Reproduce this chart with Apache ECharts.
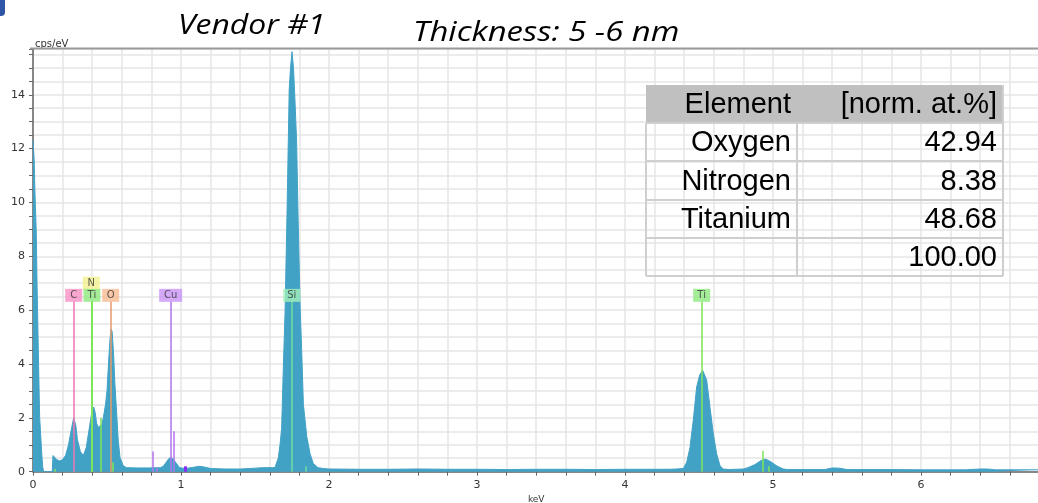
<!DOCTYPE html>
<html><head><meta charset="utf-8">
<script src="https://cdn.jsdelivr.net/npm/echarts@6/dist/echarts.min.js"></script>
<style>html,body{margin:0;padding:0;background:#fff}#c{width:1038px;height:503px}</style>
</head><body><div id="c"></div>
<script>
// ---- data ----
const energyKeV = [
 0.000,0.005,0.008,0.013,0.022,0.027,0.032,0.038,0.045,0.059,0.065,0.072,0.130,0.135,0.145,0.160,0.180,0.200,0.220,0.240,0.260,0.275,0.290,0.300,0.320,0.340,0.360,0.380,0.400,0.410,0.420,0.430,0.440,0.453,0.465,0.475,0.490,0.500,0.510,0.520,0.528,0.535,0.545,0.553,0.565,0.576,0.588,0.610,0.632,0.700,0.780,0.860,0.880,0.900,0.920,0.935,0.950,0.970,0.990,1.030,1.080,1.120,1.150,1.200,1.300,1.400,1.500,1.550,1.620,
 1.635,1.657,1.669,1.680,1.691,1.703,1.716,1.725,1.731,1.740,1.750,1.760,1.770,1.781,1.791,1.804,1.816,1.827,1.850,1.872,1.894,1.926,1.960,2.000,2.200,2.400,2.600,2.800,3.000,3.200,3.400,3.600,3.800,4.000,4.200,4.300,4.350,
 4.394,4.417,4.439,4.461,4.484,4.505,4.525,4.552,4.574,4.597,4.619,4.642,4.664,4.700,4.800,4.830,4.880,4.920,4.946,4.970,4.990,5.030,5.070,5.100,5.350,5.400,5.450,5.500,5.800,6.000,6.300,6.400,6.450,6.500,6.800
];
const countsCps = [
 12.3,12.3,11.6,10.4,8.9,7.1,5.6,3.9,2.0,0.7,0.2,0.0,0.0,0.6,0.55,0.45,0.4,0.45,0.6,1.0,1.6,2.0,1.7,1.2,0.75,0.6,0.9,1.6,2.3,2.4,2.2,1.8,1.65,1.6,1.75,2.0,2.5,3.0,4.0,4.9,5.3,5.2,4.3,3.3,2.2,1.15,0.53,0.22,0.15,0.14,0.14,0.15,0.2,0.35,0.5,0.52,0.45,0.3,0.15,0.12,0.16,0.2,0.18,0.12,0.1,0.1,0.13,0.15,0.15,
 0.16,0.5,1.0,1.6,3.8,5.9,9.5,12.3,14.2,15.0,15.6,15.0,13.8,12.3,9.5,6.3,4.4,2.5,1.3,0.67,0.3,0.15,0.12,0.1,0.09,0.09,0.1,0.09,0.09,0.08,0.09,0.09,0.08,0.09,0.09,0.09,0.1,
 0.12,0.35,0.9,1.9,3.14,3.6,3.76,3.4,2.4,1.4,0.67,0.22,0.1,0.08,0.1,0.15,0.27,0.42,0.47,0.42,0.35,0.2,0.1,0.08,0.08,0.14,0.13,0.08,0.08,0.07,0.07,0.1,0.1,0.07,0.07
];
const markerNames = ['C','N','Ti','O','Cu','Si','Ti'];
const markerKeV   = [0.275,0.394,0.398,0.525,0.930,1.748,4.518];
const minorLineKeV    = [0.144,0.457,0.536,0.810,0.835,0.950,1.030,1.840,4.930,4.970];
const minorLineHeight = [0.1,2.0,0.35,0.75,0.15,1.5,0.2,0.2,0.78,0.2];
const minorLineElem   = ['Ti','Ti','Ti','Cu','Cu','Cu','Cu2','Si','Ti','Ti'];
const tableHeader  = ['Element','[norm. at.%]'];
const tableElement = ['Oxygen','Nitrogen','Titanium',''];
const tableValue   = ['42.94','8.38','48.68','100.00'];
const titleText = 'Vendor #1', subtitleText = 'Thickness: 5 -6 nm';
const xTickStep = 0.2, yTickStep = 0.5;

// ---- styles ----
const lineColor = {C:'#f075b5',N:'#d6ec4a',Ti:'#7ee458',O:'#e89a68',Cu:'#b274ee',Cu2:'#8a2cf5',Si:'#6fdc9c'};
const boxColor  = {C:'#f790c6',N:'#f3f08e',Ti:'#8fe97f',O:'#f7ba92',Cu:'#c893f6',Si:'#a3f1b9'};
const markerTop = 6.33, labelLevel = 6.55, stackedLevel = 7.0;

const spectrum = energyKeV.map((e,i)=>[e,countsCps[i]]);
const boxData = markerNames.map((n,i)=>({
  value:[markerKeV[i], n==='N'?stackedLevel:labelLevel],
  name:n,
  symbolSize:[n==='Cu'?23:17,13],
  itemStyle:{color:boxColor[n]}
}));
const lines = markerNames.map((n,i)=>[
  {coord:[markerKeV[i],0],lineStyle:{color:lineColor[n],width:n==='Ti'&&i===2?2:1.5,type:'solid'}},
  {coord:[markerKeV[i],markerTop]}
]).concat(minorLineKeV.map((e,i)=>[
  {coord:[e,0],lineStyle:{color:lineColor[minorLineElem[i]],width:minorLineElem[i]==='Cu2'?3:1.5,type:'solid'}},
  {coord:[e,minorLineHeight[i]]}
]));

// table graphic
const tX0=646,tX1=1003,tXm=797,tY=[85,123,161,200,238,276];
const tbl=[];
const lineSt={stroke:'#cfcfcf',lineWidth:2};
tbl.push({type:'rect',z:100,shape:{x:tX0,y:tY[0],width:tX1-tX0,height:tY[1]-tY[0]},style:{fill:'#c0c0c0',stroke:null}});
for(let i=1;i<tY.length;i++) tbl.push({type:'line',z:101,shape:{x1:tX0,y1:tY[i],x2:tX1,y2:tY[i]},style:lineSt});
tbl.push({type:'line',z:101,shape:{x1:tX0,y1:tY[1],x2:tX0,y2:tY[5]},style:lineSt});
tbl.push({type:'line',z:101,shape:{x1:tX1,y1:tY[0],x2:tX1,y2:tY[5]},style:lineSt});
tbl.push({type:'line',z:101,shape:{x1:tXm,y1:tY[1],x2:tXm,y2:tY[5]},style:lineSt});
function cell(t,x,y){return {type:'text',z:102,style:{text:t,x:x,y:y,textAlign:'right',textVerticalAlign:'middle',align:'right',verticalAlign:'middle',
  fontFamily:'Liberation Sans',fontSize:29,fill:'#000',stroke:null,lineWidth:0}};}
tbl.push(cell(tableHeader[0],791,(tY[0]+tY[1])/2+1));
tbl.push(cell(tableHeader[1],997,(tY[0]+tY[1])/2+1));
for(let r=0;r<tableElement.length;r++){
  const cy=(tY[r+1]+tY[r+2])/2+1;
  if(tableElement[r]) tbl.push(cell(tableElement[r],791,cy));
  tbl.push(cell(tableValue[r],997,cy));
}
function titleEl(t,x,y,sx){return {type:'text',z:110,x:x,y:y,scaleX:sx,scaleY:1,
  style:{text:t,x:0,y:0,align:'left',verticalAlign:'top',textAlign:'left',textVerticalAlign:'top',
  fontFamily:'Open Sans',fontStyle:'italic',fontSize:28,fill:'#000',stroke:null,lineWidth:0}};}

const chart = echarts.init(document.getElementById('c'),null,{renderer:'canvas'});
function isInt(v){return Math.abs(v-Math.round(v))<1e-6;}
chart.setOption({
  animation:false,
  backgroundColor:'#fff',
  grid:{left:33,right:-1.4,top:49,bottom:31.3,containLabel:false,outerBoundsMode:'none'},
  xAxis:{type:'value',min:0,max:6.8,interval:xTickStep,
    name:'keV',nameLocation:'middle',nameGap:17,nameTextStyle:{fontFamily:'DejaVu Sans',fontSize:9,color:'#333'},
    axisLine:{show:true,lineStyle:{color:'#666',width:1.5}},
    axisTick:{show:true,length:4,lineStyle:{color:'#666'}},
    axisLabel:{fontFamily:'DejaVu Sans',fontSize:11,color:'#333',margin:8,hideOverlap:false,
      formatter:v=>isInt(v)?String(Math.round(v)):''},
    splitLine:{show:true,lineStyle:{color:'#e6e6e6',width:1.5}}
  },
  yAxis:{type:'value',min:0,max:15.7,interval:yTickStep,
    name:'cps/eV',nameLocation:'end',nameGap:0,nameTextStyle:{fontFamily:'DejaVu Sans',fontSize:10,color:'#333',align:'left',padding:[0,0,0,2]},
    axisLine:{show:true,lineStyle:{color:'#666',width:1.5}},
    axisTick:{show:true,length:4,lineStyle:{color:'#666'}},
    axisLabel:{fontFamily:'DejaVu Sans',fontSize:11,color:'#333',margin:8,hideOverlap:false,
      formatter:v=>(isInt(v)&&Math.round(v)%2===0)?String(Math.round(v)):''},
    splitLine:{show:true,lineStyle:{color:'#e6e6e6',width:1.5}}
  },
  graphic:[
    {type:'rect',shape:{x:-6,y:-6,width:11,height:22,r:4},style:{fill:'#2f56a6'}},
    {type:'line',z:50,shape:{x1:30,y1:48.5,x2:1038,y2:48.5},style:{stroke:'#9a9a9a',lineWidth:2}},
    titleEl(titleText,178,12,1.14),
    titleEl(subtitleText,413,19,1.175)
  ].concat(tbl),
  series:[
    {type:'line',data:spectrum,showSymbol:false,symbol:'none',sampling:null,
     lineStyle:{color:'#41a2c6',width:1},areaStyle:{color:'#41a2c6',opacity:1},z:2,silent:true},
    {type:'scatter',data:boxData,symbol:'rect',z:5,silent:true,
     label:{show:true,position:'inside',formatter:p=>p.name,fontFamily:'DejaVu Sans',fontSize:10,color:'#333'},
     markLine:{silent:true,symbol:['none','none'],label:{show:false},data:lines,animation:false}
    }
  ]
});
</script></body></html>
